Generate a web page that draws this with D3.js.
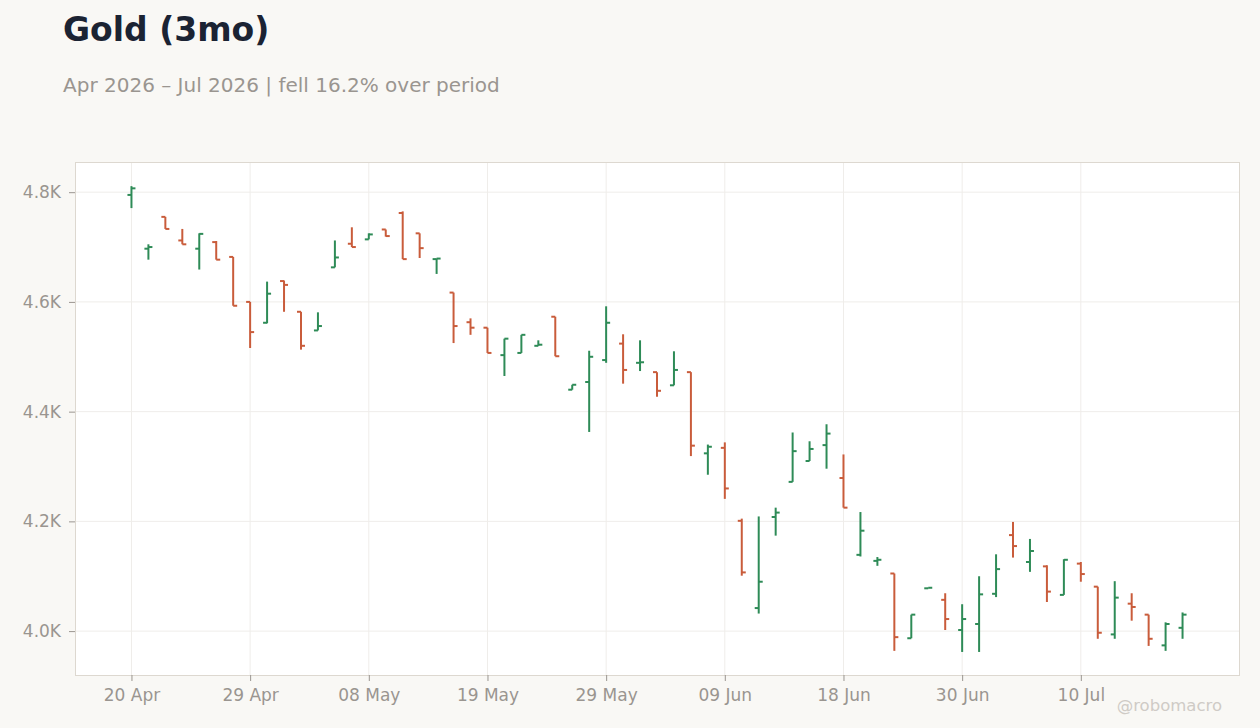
<!DOCTYPE html>
<html>
<head>
<meta charset="utf-8">
<script src="https://cdn.jsdelivr.net/npm/d3@7"></script>
<style>
  html, body { margin: 0; padding: 0; background: #f9f8f5; }
  svg { display: block; font-family: "DejaVu Sans", sans-serif; }
</style>
</head>
<body>
<svg id="chart" width="1260" height="728"></svg>
<script>
// Trading dates (weekdays, US market holidays skipped)
const dates = [
  "2026-04-20","2026-04-21","2026-04-22","2026-04-23","2026-04-24",
  "2026-04-27","2026-04-28","2026-04-29","2026-04-30","2026-05-01",
  "2026-05-04","2026-05-05","2026-05-06","2026-05-07","2026-05-08",
  "2026-05-11","2026-05-12","2026-05-13","2026-05-14","2026-05-15",
  "2026-05-18","2026-05-19","2026-05-20","2026-05-21","2026-05-22",
  "2026-05-26","2026-05-27","2026-05-28","2026-05-29",
  "2026-06-01","2026-06-02","2026-06-03","2026-06-04","2026-06-05",
  "2026-06-08","2026-06-09","2026-06-10","2026-06-11","2026-06-12",
  "2026-06-15","2026-06-16","2026-06-17","2026-06-18",
  "2026-06-22","2026-06-23","2026-06-24","2026-06-25","2026-06-26",
  "2026-06-29","2026-06-30","2026-07-01","2026-07-02",
  "2026-07-06","2026-07-07","2026-07-08","2026-07-09","2026-07-10",
  "2026-07-13","2026-07-14","2026-07-15","2026-07-16","2026-07-17",
  "2026-07-20"
];
const open = [
  4795,4697,4755,4712,4697,4709,4682,4600,4562,4638,
  4582,4548,4663,4706,4714,4732,4762,4725,4678,4617,
  4563,4553,4503,4507,4520,4573,4440,4454,4494,4524,
  4489,4472,4448,4472,4324,4334,4201,4042,4208,4272,
  4310,4339,4279,4139,4128,4105,3987,4078,4057,4002,
  4013,4068,4175,4126,4118,4066,4123,4081,3994,4050,
  4030,3974,4006
];
const high = [
  4811,4705,4755,4733,4725,4711,4682,4600,4637,4639,
  4582,4581,4712,4736,4725,4732,4765,4725,4679,4617,
  4570,4553,4533,4540,4530,4573,4449,4511,4592,4541,
  4530,4472,4510,4472,4340,4344,4205,4209,4225,4362,
  4346,4377,4322,4217,4135,4105,4030,4079,4069,4049,
  4100,4140,4199,4168,4120,4131,4126,4081,4091,4069,
  4030,4016,4034
];
const low = [
  4771,4677,4733,4705,4659,4677,4593,4516,4561,4582,
  4513,4548,4663,4700,4714,4719,4678,4680,4651,4525,
  4540,4507,4465,4507,4520,4501,4440,4363,4489,4451,
  4474,4427,4448,4319,4285,4241,4101,4032,4174,4272,
  4310,4296,4225,4136,4119,3964,3987,4078,4002,3962,
  3962,4062,4134,4108,4053,4066,4090,3986,3986,4019,
  3973,3964,3986
];
const close = [
  4807,4700,4733,4705,4724,4677,4593,4545,4615,4631,
  4520,4556,4681,4700,4723,4720,4678,4698,4679,4556,
  4553,4507,4533,4540,4522,4501,4449,4500,4562,4476,
  4490,4438,4476,4338,4336,4260,4107,4090,4216,4328,
  4332,4360,4225,4183,4130,3989,4030,4079,4022,4022,
  4067,4113,4155,4146,4072,4130,4104,3997,4061,4044,
  3986,4013,4030
];
const xTickDates = ["2026-04-20","2026-04-29","2026-05-08","2026-05-19","2026-05-29",
                    "2026-06-09","2026-06-18","2026-06-30","2026-07-10"];
const xTickLabels = ["20 Apr","29 Apr","08 May","19 May","29 May","09 Jun","18 Jun","30 Jun","10 Jul"];
const yTicks = [4000, 4200, 4400, 4600, 4800];
const yTickLabels = ["4.0K","4.2K","4.4K","4.6K","4.8K"];

const W = 1260, H = 728;
const m = {left: 75, right: 1239, top: 162, bottom: 675};
const UP = "#2e8b57", DOWN = "#c95c3b";

const svg = d3.select("#chart");

svg.append("text").attr("x", 63).attr("y", 41)
  .attr("font-size", 33).attr("font-weight", "bold").attr("fill", "#1b2333")
  .text("Gold (3mo)");
svg.append("text").attr("x", 63).attr("y", 92)
  .attr("font-size", 20).attr("fill", "#9a9590")
  .text("Apr 2026 \u2013 Jul 2026 | fell 16.2% over period");

const x = d3.scalePoint().domain(dates).range([m.left, m.right]).padding(3.33);
const y = d3.scaleLinear().domain([3920, 4855]).range([m.bottom, m.top]);

// plot background
svg.append("rect").attr("x", m.left).attr("y", m.top)
  .attr("width", m.right - m.left).attr("height", m.bottom - m.top)
  .attr("fill", "#ffffff");

// grid
const grid = svg.append("g");
grid.selectAll("line.gy").data(yTicks).join("line")
  .attr("x1", m.left).attr("x2", m.right)
  .attr("y1", d => y(d)).attr("y2", d => y(d))
  .attr("stroke", "#efedea").attr("stroke-width", 1);
grid.selectAll("line.gx").data(xTickDates).join("line")
  .attr("y1", m.top).attr("y2", m.bottom)
  .attr("x1", d => x(d)).attr("x2", d => x(d))
  .attr("stroke", "#efedea").attr("stroke-width", 1);

// border
svg.append("rect").attr("x", m.left + 0.5).attr("y", m.top + 0.5)
  .attr("width", m.right - m.left).attr("height", m.bottom - m.top)
  .attr("fill", "none").attr("stroke", "#ddd8d0").attr("stroke-width", 1);

// axes
const yAxis = d3.axisLeft(y).tickValues(yTicks).tickSize(6).tickPadding(8)
  .tickFormat((d, i) => yTickLabels[i]);
const gy = svg.append("g").attr("transform", `translate(${m.left},0)`).call(yAxis);
gy.select(".domain").remove();
gy.selectAll("line").attr("stroke", "#9a9590");
gy.selectAll("text").attr("fill", "#9a9590").attr("font-size", 17)
  .attr("font-family", "DejaVu Sans, sans-serif");

const xAxis = d3.axisBottom(x).tickValues(xTickDates).tickSize(6).tickPadding(8)
  .tickFormat((d, i) => xTickLabels[i]);
const gx = svg.append("g").attr("transform", `translate(0,${m.bottom})`).call(xAxis);
gx.select(".domain").remove();
gx.selectAll("line").attr("stroke", "#9a9590");
gx.selectAll("text").attr("fill", "#9a9590").attr("font-size", 17)
  .attr("font-family", "DejaVu Sans, sans-serif");

// OHLC bars
const bars = dates.map((d, i) => ({d, o: open[i], h: high[i], l: low[i], c: close[i]}));
const g = svg.append("g");
const tw = 4;
bars.forEach(b => {
  const col = b.c >= b.o ? UP : DOWN;
  const cx = x(b.d);
  g.append("line").attr("x1", cx).attr("x2", cx)
    .attr("y1", y(b.h)).attr("y2", y(b.l))
    .attr("stroke", col).attr("stroke-width", 2);
  g.append("line").attr("x1", cx - tw).attr("x2", cx)
    .attr("y1", y(b.o)).attr("y2", y(b.o))
    .attr("stroke", col).attr("stroke-width", 2);
  g.append("line").attr("x1", cx).attr("x2", cx + tw)
    .attr("y1", y(b.c)).attr("y2", y(b.c))
    .attr("stroke", col).attr("stroke-width", 2);
});

svg.append("text").attr("x", 1222).attr("y", 711).attr("text-anchor", "end")
  .attr("font-size", 16.5).attr("fill", "#cfcbc6").text("@robomacro");
</script>
</body>
</html>
